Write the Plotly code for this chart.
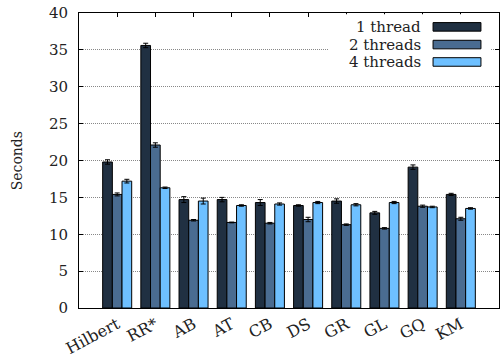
import plotly.graph_objects as go

categories = ["Hilbert", "RR*", "AB", "AT", "CB", "DS", "GR", "GL", "GQ", "KM"]
series_names = ["1 thread", "2 threads", "4 threads"]
t1 = [19.8, 35.6, 14.7, 14.7, 14.3, 13.9, 14.5, 12.9, 19.1, 15.4]
t2 = [15.4, 22.1, 11.9, 11.6, 11.5, 12.0, 11.3, 10.8, 13.8, 12.1]
t4 = [17.2, 16.3, 14.5, 13.9, 14.1, 14.3, 14.0, 14.3, 13.7, 13.5]
e1 = [0.3, 0.3, 0.4, 0.3, 0.4, 0.1, 0.3, 0.2, 0.3, 0.15]
e2 = [0.2, 0.3, 0.1, 0.05, 0.1, 0.3, 0.1, 0.1, 0.15, 0.2]
e4 = [0.25, 0.1, 0.4, 0.1, 0.15, 0.15, 0.15, 0.15, 0.1, 0.1]
colors = ["#203042", "#4a6c91", "#6ec0ff"]
y_ticks = [0, 5, 10, 15, 20, 25, 30, 35, 40]

FONT = "DejaVu Serif"
xs = list(range(len(categories)))

fig = go.Figure()
for name, vals, errs, col in zip(series_names, [t1, t2, t4], [e1, e2, e4], colors):
    fig.add_trace(go.Bar(
        x=xs, y=vals, name=name, showlegend=False,
        marker=dict(color=col, line=dict(color="black", width=1)),
        error_y=dict(type="data", array=errs, color="black", thickness=1, width=2.5),
    ))

# invisible trace to anchor top tick axis
fig.add_trace(go.Scatter(x=[xs[0]], y=[0], xaxis="x2", mode="markers",
                         marker=dict(opacity=0), showlegend=False, hoverinfo="skip"))

fig.update_layout(
    width=500, height=364,
    margin=dict(l=79, r=1, t=13, b=56),
    paper_bgcolor="white", plot_bgcolor="white",
    barmode="group", bargap=0.24, bargroupgap=0,
    font=dict(family=FONT, size=15, color="#222"),
    xaxis=dict(range=[-1, len(categories)], tickvals=xs, ticktext=categories,
               tickangle=-28, ticks="", showline=True, linecolor="black", linewidth=1,
               mirror=True, showgrid=False, zeroline=False,
               tickfont=dict(family=FONT, size=16, color="#222")),
    xaxis2=dict(overlaying="x", side="top", matches="x", tickvals=xs, ticks="inside",
                ticklen=4, tickcolor="black", showticklabels=False, showline=False,
                showgrid=False, zeroline=False),
    yaxis=dict(range=[0, 40], tickvals=y_ticks, ticks="inside", ticklen=4,
               tickcolor="black", showline=True, linecolor="black", linewidth=1,
               mirror="ticks", showgrid=True, gridcolor="#888", griddash="1px,1px",
               gridwidth=1, zeroline=False, ticklabelstandoff=7,
               tickfont=dict(family=FONT, size=15, color="#222")),
    showlegend=False,
)

fig.add_annotation(text="Seconds", x=-0.148, y=0.5, xref="paper", yref="paper",
                   xanchor="center", yanchor="middle",
                   textangle=-90, showarrow=False, font=dict(family=FONT, size=14, color="#222"))

# manual legend (text left, swatch right)
fig.add_shape(type="rect", xref="paper", yref="paper", x0=0.593, x1=0.981, y0=0.807, y1=0.996,
              fillcolor="white", line=dict(width=0), layer="above")
row_y = [0.953, 0.893, 0.834]
for name, col, yy in zip(series_names, colors, row_y):
    fig.add_annotation(text=name, x=0.819, y=yy, xref="paper", yref="paper",
                       xanchor="right", yanchor="middle", showarrow=False,
                       font=dict(family=FONT, size=15, color="#222"))
    fig.add_shape(type="rect", xref="paper", yref="paper", x0=0.843, x1=0.957,
                  y0=yy - 0.0145, y1=yy + 0.0145, fillcolor=col,
                  line=dict(color="black", width=1), layer="above")

fig.write_html("out.html")
